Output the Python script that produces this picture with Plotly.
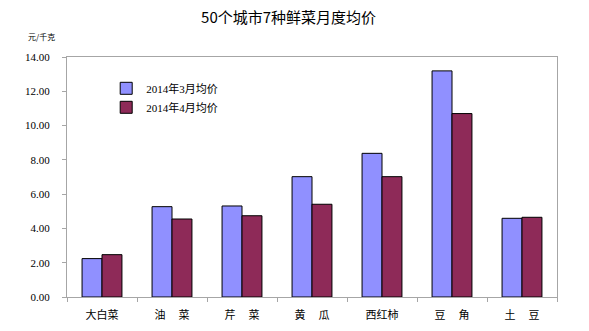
import plotly.graph_objects as go

# Average monthly price of 7 fresh vegetables across 50 cities (yuan / kg)
categories = ["大白菜", "油\u3000\u2009菜", "芹\u3000\u2009菜", "黄\u3000\u2009瓜",
              "西红柿", "豆\u3000\u2009角", "土\u3000\u2009豆"]
march_2014 = [2.24, 5.27, 5.31, 7.02, 8.38, 13.19, 4.59]
april_2014 = [2.47, 4.55, 4.74, 5.41, 7.02, 10.70, 4.65]
y_ticks = [0, 2, 4, 6, 8, 10, 12, 14]

serif = "Liberation Serif, Noto Sans CJK SC, serif"
cjk = "Noto Sans CJK SC, sans-serif"
axis_grey = "#A6A6A6"

fig = go.Figure()
fig.add_trace(go.Bar(
    x=categories, y=march_2014, name="2014年3月均价",
    marker=dict(color="#9090FF", line=dict(color="#000000", width=1)),
))
fig.add_trace(go.Bar(
    x=categories, y=april_2014, name="2014年4月均价",
    marker=dict(color="#8E2A58", line=dict(color="#000000", width=1)),
))

fig.update_layout(
    width=589, height=331,
    margin=dict(l=67, r=32, t=57, b=34),
    paper_bgcolor="white", plot_bgcolor="white",
    barmode="group", bargap=0.43, bargroupgap=0,
    title=dict(text="50个城市7种鲜菜月度均价", x=0.49, xanchor="center",
               y=0.945, yanchor="middle",
               font=dict(family=cjk, size=15, color="#000000")),
    legend=dict(x=0.08, y=0.93, xanchor="left", yanchor="top",
                bgcolor="rgba(0,0,0,0)", font=dict(family=serif, size=11, color="#000000"),
                itemwidth=30, tracegroupgap=2),
    showlegend=True,
    annotations=[dict(text="元/千克", xref="paper", yref="paper",
                      x=-0.052, y=1.085, xanchor="center", yanchor="middle",
                      showarrow=False, font=dict(family=cjk, size=8, color="#000000"))],
)

fig.update_xaxes(
    type="category", showline=True, mirror=True, linecolor=axis_grey, linewidth=1,
    ticks="outside", tickson="boundaries", ticklen=4, tickcolor=axis_grey,
    showgrid=False, ticklabelstandoff=8, automargin=False,
    tickfont=dict(family=cjk, size=11, color="#000000"),
)
fig.update_yaxes(
    range=[0, 14], tickvals=y_ticks, tickformat=".2f",
    showline=True, mirror=True, linecolor=axis_grey, linewidth=1,
    ticks="outside", ticklen=4, tickcolor=axis_grey, showgrid=False, zeroline=False,
    ticklabelstandoff=10, automargin=False,
    tickfont=dict(family=serif, size=11, color="#000000"),
)

fig.write_html("out.html")
